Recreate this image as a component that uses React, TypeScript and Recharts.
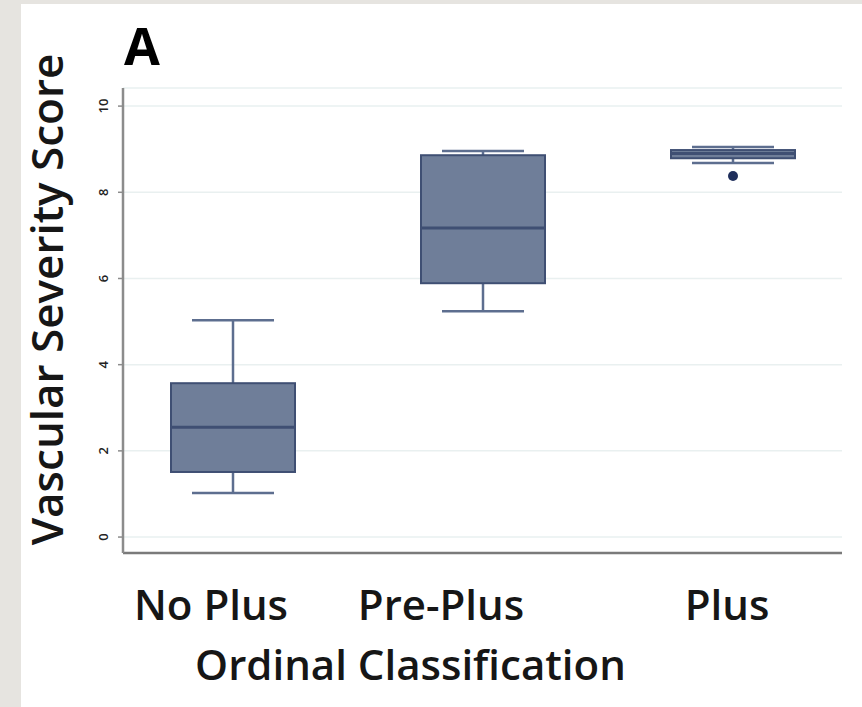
import React from "react";
import { ComposedChart, Bar, Scatter, XAxis, YAxis, CartesianGrid } from "recharts";

const categories = ["No Plus", "Pre-Plus", "Plus"];
const whiskerLow = [1.02, 5.24, 8.68];
const q1 = [1.51, 5.89, 8.79];
const median = [2.55, 7.17, 8.9];
const q3 = [3.57, 8.86, 8.98];
const whiskerHigh = [5.03, 8.96, 9.05];
const outliers: (number | null)[] = [null, null, 8.38];
const yTicks = [0, 2, 4, 6, 8, 10];
const yDomain = [-0.37, 10.42];

const data = categories.map((name, i) => ({
  name,
  whisker: [whiskerLow[i], whiskerHigh[i]],
  box: [q1[i], q3[i]],
  med: [median[i], median[i]],
  outlier: outliers[i],
}));

const BOX_FILL = "#6f7e99";
const BOX_STROKE = "#3f4f73";
const WHISKER = "#5d6e8f";
const FONT = "'Open Sans', 'Noto Sans', sans-serif";

const WhiskerShape = (p: any) => {
  const top = Math.min(p.y, p.y + p.height);
  const bot = Math.max(p.y, p.y + p.height);
  const cx = p.x + p.width / 2;
  return (
    <g stroke={WHISKER} strokeWidth={2.5}>
      <line x1={cx} x2={cx} y1={top} y2={bot} />
      <line x1={p.x} x2={p.x + p.width} y1={top} y2={top} />
      <line x1={p.x} x2={p.x + p.width} y1={bot} y2={bot} />
    </g>
  );
};

const BoxShape = (p: any) => {
  const top = Math.min(p.y, p.y + p.height);
  const h = Math.abs(p.height);
  return <rect x={p.x} y={top} width={p.width} height={h} fill={BOX_FILL} stroke={BOX_STROKE} strokeWidth={2} />;
};

const MedianShape = (p: any) => (
  <line x1={p.x} x2={p.x + p.width} y1={p.y} y2={p.y} stroke={BOX_STROKE} strokeWidth={3} />
);

const OutlierShape = (p: any) =>
  p.payload && p.payload.outlier != null ? <circle cx={p.cx} cy={p.cy} r={5} fill="#1f2f5c" /> : <g />;

const labelShift = [-22, -42, -6];

const XTick = (p: any) => (
  <text x={p.x + labelShift[p.index ?? 0]} y={p.y + 67} textAnchor="middle" fontFamily={FONT} fontWeight={600} fontSize={42} fill="#161616">
    {p.payload.value}
  </text>
);

const YTick = (p: any) => (
  <text
    x={p.x - 13}
    y={p.y}
    transform={`rotate(-90, ${p.x - 13}, ${p.y})`}
    textAnchor="middle"
    dominantBaseline="central"
    fontFamily={FONT}
    fontWeight={600}
    fontSize={13}
    fill="#222"
  >
    {p.payload.value}
  </text>
);

const YLabel = (p: any) => {
  const vb = p.viewBox || { x: 83, y: 88, width: 40, height: 465 };
  const cx = vb.x - 37;
  const cy = vb.y + vb.height / 2 - 21;
  return (
    <text x={cx} y={cy} transform={`rotate(-90, ${cx}, ${cy})`} textAnchor="middle" dominantBaseline="central" fontFamily={FONT} fontWeight={600} fontSize={44} fill="#161616">
      Vascular Severity Score
    </text>
  );
};

const XLabel = (p: any) => {
  const vb = p.viewBox || { x: 123, y: 553, width: 719, height: 60 };
  return (
    <text x={vb.x + vb.width / 2 - 72} y={vb.y + 127} textAnchor="middle" fontFamily={FONT} fontWeight={600} fontSize={42} fill="#161616">
      Ordinal Classification
    </text>
  );
};

export default function App() {
  return (
    <div style={{ position: "fixed", left: 0, top: 0, width: 862, height: 707, background: "#e6e4e0", overflow: "hidden" }}>
      <div style={{ position: "absolute", left: 21, top: 4, width: 841, height: 703, background: "#ffffff" }} />
      <div style={{ position: "absolute", left: 0, top: 0 }}>
        <ComposedChart width={862} height={707} data={data} margin={{ top: 88, right: 20, bottom: 94, left: 83 }}>
          <CartesianGrid horizontal vertical={false} stroke="#e9f0f0" strokeWidth={1.5} />
          <XAxis
            dataKey="name"
            type="category"
            padding={{ left: -15, right: -16 }}
            height={60}
            axisLine={{ stroke: "#7a7a7a", strokeWidth: 2.5 }}
            tickLine={false}
            tickSize={0}
            tickMargin={0}
            tick={<XTick />}
            interval={0}
            label={<XLabel />}
          />
          <XAxis xAxisId="w" dataKey="name" type="category" padding={{ left: -15, right: -16 }} hide />
          <XAxis xAxisId="m" dataKey="name" type="category" padding={{ left: -15, right: -16 }} hide />
          <YAxis
            type="number"
            domain={yDomain}
            ticks={yTicks}
            allowDataOverflow
            width={40}
            axisLine={{ stroke: "#8c8c8c", strokeWidth: 2.5 }}
            tickLine={{ stroke: "#8c8c8c", strokeWidth: 1.5 }}
            tickSize={5}
            tickMargin={2}
            tick={<YTick />}
            label={<YLabel />}
          />
          <Bar xAxisId="w" dataKey="whisker" barSize={82} shape={<WhiskerShape />} isAnimationActive={false} />
          <Bar dataKey="box" barSize={124} shape={<BoxShape />} isAnimationActive={false} />
          <Bar xAxisId="m" dataKey="med" barSize={124} shape={<MedianShape />} isAnimationActive={false} />
          <Scatter dataKey="outlier" shape={<OutlierShape />} isAnimationActive={false} />
        </ComposedChart>
      </div>
      <svg style={{ position: "absolute", left: 0, top: 0 }} width={200} height={80}>
        <text x={124} y={65} fontFamily={FONT} fontWeight={700} fontSize={52} fill="#000">A</text>
      </svg>
    </div>
  );
}
